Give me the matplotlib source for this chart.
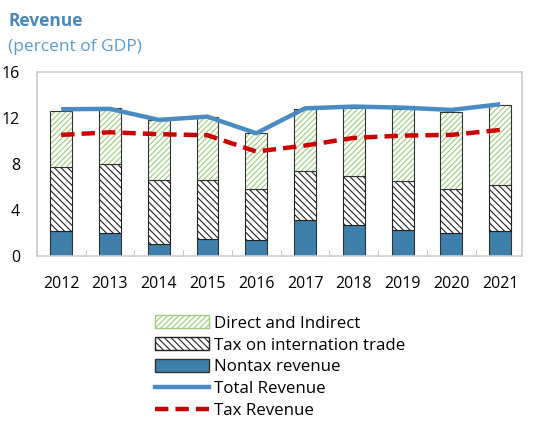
import numpy as np
import matplotlib.pyplot as plt
from matplotlib.patches import Patch
from matplotlib.lines import Line2D

plt.rcParams['font.family'] = ['Open Sans', 'DejaVu Sans']
plt.rcParams['hatch.linewidth'] = 0.8

years = ['2012', '2013', '2014', '2015', '2016', '2017', '2018', '2019', '2020', '2021']
nontax = [2.16, 2.0, 1.1, 1.5, 1.4, 3.14, 2.74, 2.28, 2.07, 2.16]
trade = [5.54, 6.0, 5.53, 5.13, 4.42, 4.26, 4.18, 4.26, 3.75, 4.01]
direct = [4.92, 4.82, 5.17, 5.42, 4.9, 5.34, 5.96, 6.26, 6.66, 6.91]
total_rev = [12.74, 12.77, 11.82, 12.1, 10.66, 12.82, 12.97, 12.88, 12.68, 13.17]
tax_rev = [10.52, 10.75, 10.58, 10.49, 9.08, 9.6, 10.26, 10.46, 10.52, 10.95]

blue = '#3f7fab'
line_blue = '#4a8bc2'
red = '#cc0000'
green = '#9ccc7c'

fig = plt.figure(figsize=(5.41, 4.26), dpi=100)
ax = fig.add_axes([0.068, 0.398, 0.897, 0.434])

x = np.arange(len(years))
w = 0.45
nontax = np.array(nontax)
trade = np.array(trade)
direct = np.array(direct)

ax.bar(x, nontax, w, color=blue, edgecolor='#333333', linewidth=0.8)
ax.bar(x, trade, w, bottom=nontax, color='white', edgecolor='#222222',
       hatch='\\\\\\\\\\', linewidth=0.8)
ax.bar(x, direct, w, bottom=nontax + trade, color='white', edgecolor=green,
       hatch='//////', linewidth=0)
ax.bar(x, direct, w, bottom=nontax + trade, fill=False, edgecolor='#333333', linewidth=0.8)
ax.plot(x, total_rev, color=line_blue, lw=3.2, solid_capstyle='butt')
ax.plot(x, tax_rev, color=red, lw=3.2, ls=(0, (3, 1.6)))

ax.set_ylim(0, 16)
ax.set_xlim(-0.5, 9.45)
ax.set_yticks([0, 4, 8, 12, 16])
ax.set_xticks(x)
ax.set_xticklabels(years)
ax.set_xticks(np.arange(-0.5, 9.5, 1), minor=True)
ax.tick_params(axis='x', which='major', length=0, labelsize=11.5, pad=14)
ax.tick_params(axis='x', which='minor', direction='in', length=4, color='#bbbbbb')
ax.tick_params(axis='y', length=0, labelsize=11.5, pad=12)
for s in ax.spines.values():
    s.set_color('#cccccc')
    s.set_linewidth(1.2)

fig.text(0.015, 0.94, 'Revenue', color='#4a86b8', fontsize=12.5, fontweight='bold')
fig.text(0.015, 0.88, '(percent of GDP)', color='#5b9bd0', fontsize=12.5)

handles = [
    Patch(facecolor='white', edgecolor=green, hatch='//////', label='Direct and Indirect'),
    Patch(facecolor='white', edgecolor='#222222', hatch='\\\\\\\\\\', label='Tax on internation trade'),
    Patch(facecolor=blue, edgecolor='#333333', label='Nontax revenue'),
    Line2D([], [], color=line_blue, lw=3.2, label='Total Revenue'),
    Line2D([], [], color=red, lw=3.2, ls=(0, (3, 1.6)), label='Tax Revenue'),
]
fig.legend(handles=handles, loc='upper left', bbox_to_anchor=(0.27, 0.28), frameon=False,
           fontsize=12.2, handlelength=3.2, handleheight=0.8, labelspacing=0.33,
           handletextpad=0.3, borderpad=0)

fig.savefig('out.png', dpi=100)
